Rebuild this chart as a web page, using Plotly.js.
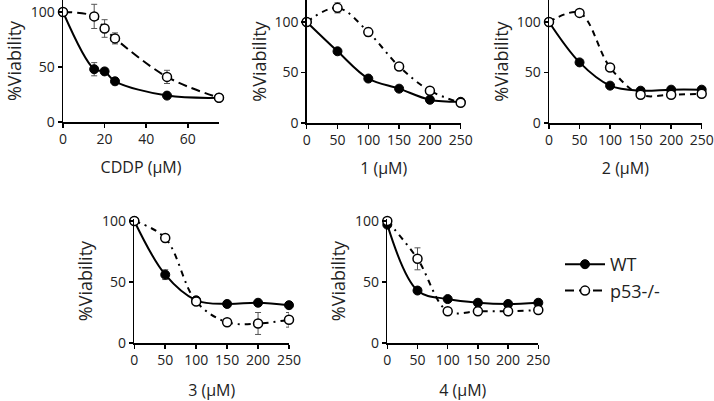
<!DOCTYPE html>
<html>
<head>
<meta charset="utf-8">
<script src="https://cdn.plot.ly/plotly-3.0.1.min.js"></script>
<style>
    html, body { margin: 0; padding: 0; background: #fff; }
    #chart { width: 714px; height: 401px; }
</style>
</head>
<body>
<div id="chart"></div>
<script>
// Doses (µM)
const doseCDDP = [0, 15, 20, 25, 50, 75];
const doseCpd = [0, 50, 100, 150, 200, 250];

// % viability, WT and p53-/- cells, with error bars
const wtCDDP = [100, 48, 46, 37, 24, 22];
const wtCDDPErr = [0, 6, 3, 3, 2, 1];
const koCDDP = [100, 96, 85, 76, 41, 22];
const koCDDPErr = [0, 11, 8, 5, 6, 1];

const wt1 = [100, 71, 44, 34, 23, 21];
const wt1Err = [0, 2, 2, 2, 2, 1];
const ko1 = [100, 114, 90, 56, 32, 20];
const ko1Err = [0, 5, 4, 2, 2, 2];

const wt2 = [100, 60, 37, 32, 33, 33];
const wt2Err = [0, 2, 2, 2, 2, 2];
const ko2 = [100, 109, 55, 28, 28, 29];
const ko2Err = [0, 2, 3, 2, 2, 2];

const wt3 = [100, 56, 35, 32, 33, 31];
const wt3Err = [0, 4, 2, 2, 2, 2];
const ko3 = [100, 86, 34, 17, 16, 19];
const ko3Err = [0, 3, 2, 2, 9, 6];

const wt4 = [97, 43, 36, 33, 32, 33];
const wt4Err = [0, 2, 2, 2, 2, 2];
const ko4 = [100, 69, 26, 26, 26, 27];
const ko4Err = [0, 9, 2, 2, 2, 2];

const W = 714, H = 401;
const FONT = "Open Sans, DejaVu Sans, sans-serif";

// Panel boxes in pixels: left/right = x range ends, bottom = y 0, y100 = where 100 sits
const panels = [
    { title: "CDDP (µM)", x: doseCDDP, xMax: 75, dtick: 20, wt: wtCDDP, wtErr: wtCDDPErr, ko: koCDDP, koErr: koCDDPErr,
      dash: "9px,5px", left: 63, right: 219, top: 0, bottom: 122, y100: 12, standoff: 14, yStandoff: 4 },
    { title: "1 (µM)", x: doseCpd, xMax: 250, dtick: 50, wt: wt1, wtErr: wt1Err, ko: ko1, koErr: ko1Err,
      dash: "6px,5px,2px,5px", left: 306.7, right: 460.7, top: 0, bottom: 123, y100: 22, standoff: 14, yStandoff: 3 },
    { title: "2 (µM)", x: doseCpd, xMax: 250, dtick: 50, wt: wt2, wtErr: wt2Err, ko: ko2, koErr: ko2Err,
      dash: "6px,5px", left: 549, right: 701.7, top: 0, bottom: 123, y100: 22, standoff: 14, yStandoff: 3 },
    { title: "3 (µM)", x: doseCpd, xMax: 250, dtick: 50, wt: wt3, wtErr: wt3Err, ko: ko3, koErr: ko3Err,
      dash: "6px,5px,2px,5px", left: 134.3, right: 289, top: 219, bottom: 343, y100: 221, standoff: 17, yStandoff: 4 },
    { title: "4 (µM)", x: doseCpd, xMax: 250, dtick: 50, wt: wt4, wtErr: wt4Err, ko: ko4, koErr: ko4Err,
      dash: "6px,5px,2px,5px", left: 387.3, right: 538.3, top: 219, bottom: 343, y100: 221, standoff: 17, yStandoff: 4 },
];

const traces = [];
const layout = {
    width: W, height: H,
    margin: { l: 0, r: 0, t: 0, b: 0 },
    paper_bgcolor: "#fff", plot_bgcolor: "rgba(0,0,0,0)",
    font: { family: FONT, size: 14, color: "#222" },
    showlegend: true,
    legend: {
        x: 560 / W, y: (H - 246) / H, xanchor: "left", yanchor: "top",
        font: { size: 18, color: "#222" }, tracegroupgap: 0, itemwidth: 40,
        bgcolor: "rgba(0,0,0,0)",
    },
};

panels.forEach((p, i) => {
    const n = i === 0 ? "" : String(i + 1);
    const yMax = 100 * (p.bottom - p.top) / (p.bottom - p.y100);
    const common = {
        type: "scatter", mode: "lines+markers",
        x: p.x, xaxis: "x" + n, yaxis: "y" + n, cliponaxis: false,
    };
    traces.push({
        ...common, name: "WT", y: p.wt, legendgroup: "wt", showlegend: i === 0,
        line: { color: "#000", width: 2, shape: "spline", smoothing: 1 },
        marker: { color: "#000", size: 9, line: { color: "#000", width: 1 } },
        error_y: { type: "data", array: p.wtErr, color: "#555", thickness: 1, width: 3 },
    });
    traces.push({
        ...common, name: "p53-/-", y: p.ko, legendgroup: "ko", showlegend: i === 0,
        line: { color: "#000", width: 2, shape: "spline", smoothing: 1, dash: p.dash },
        marker: { color: "#fff", size: 9, line: { color: "#000", width: 1.5 } },
        error_y: { type: "data", array: p.koErr, color: "#555", thickness: 1, width: 3 },
    });

    layout["xaxis" + n] = {
        domain: [p.left / W, p.right / W], anchor: "y" + n,
        range: [0, p.xMax], dtick: p.dtick, tick0: 0,
        showgrid: false, zeroline: false, showline: true, linecolor: "#000", linewidth: 1.5,
        ticks: "outside", ticklen: 4, tickcolor: "#000", tickwidth: 1.5,
        tickfont: { size: 14 }, fixedrange: true,
        title: { text: p.title, font: { size: 16 }, standoff: p.standoff },
    };
    layout["yaxis" + n] = {
        domain: [(H - p.bottom) / H, (H - p.top) / H], anchor: "x" + n,
        range: [0, yMax], tickvals: [0, 50, 100],
        showgrid: false, zeroline: false, showline: true, linecolor: "#000", linewidth: 1.5,
        ticks: "outside", ticklen: 4, tickcolor: "#000", tickwidth: 1.5,
        tickfont: { size: 14 }, fixedrange: true,
        title: { text: "%Viability", font: { size: 18 }, standoff: p.yStandoff },
    };
});

Plotly.newPlot("chart", traces, layout, { staticPlot: true });
</script>
</body>
</html>
